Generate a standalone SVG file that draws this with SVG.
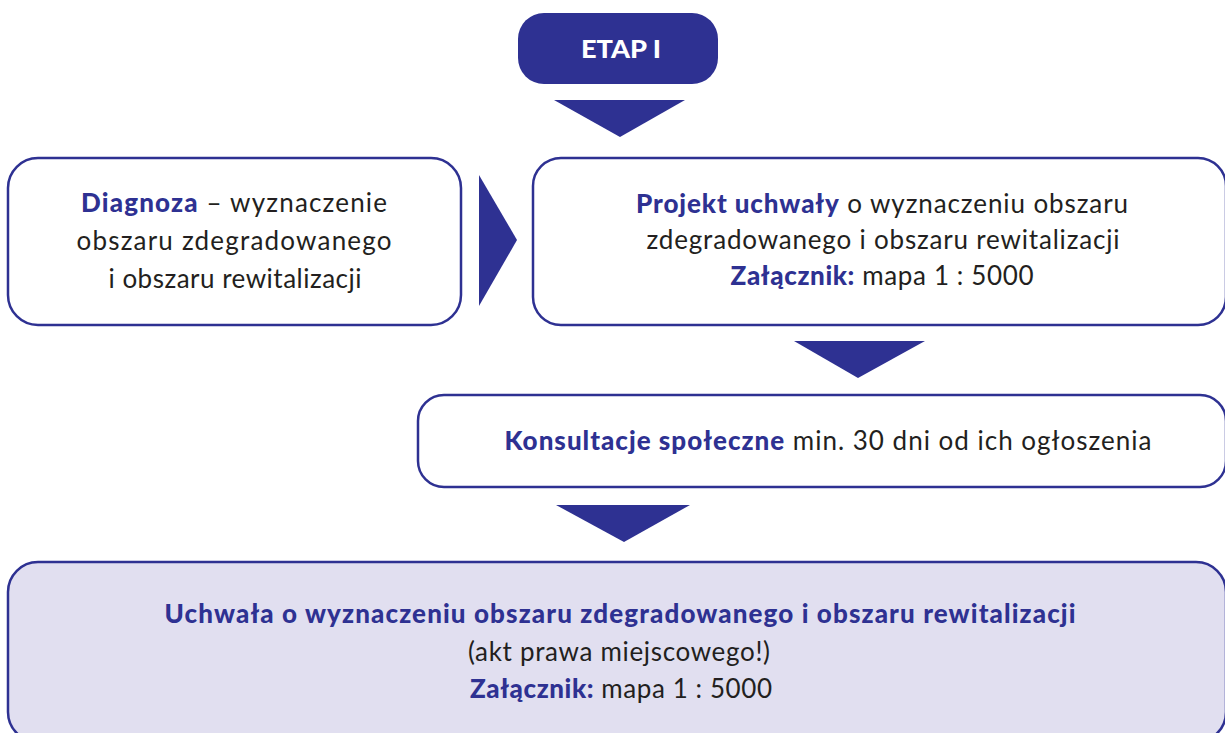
<svg xmlns="http://www.w3.org/2000/svg" width="1225" height="733" viewBox="0 0 1225 733">
<style>
.box{fill:#fff;stroke:#2e3192;stroke-width:2.5}
.fin{fill:#e1dff0;stroke:#2e3192;stroke-width:2.5}
.arr{fill:#2e3192}
text{font-family:Lato,"Noto Sans",sans-serif;font-size:26px;fill:#231f20;text-anchor:middle}
.b{font-weight:900;fill:#2e3192}
</style>
<rect width="1225" height="733" fill="#fff"/>
<g id="connectors">
<polygon class="arr" points="554,100 685,100 620,137"/>
<polygon class="arr" points="479,175 479,306 517,240"/>
<polygon class="arr" points="794,341 925,341 858,378"/>
<polygon class="arr" points="556,505 690,505 624,542"/>
</g>
<g id="etap">
<rect x="518" y="13" width="200" height="71" rx="26" fill="#2e3192"/>
<text x="621" y="58" textLength="80" lengthAdjust="spacingAndGlyphs" style="fill:#fff;font-weight:900;font-size:25px">ETAP I</text>
</g>
<g id="diagnoza">
<rect class="box" x="8" y="158" width="453" height="167" rx="30"/>
<text x="234" y="212" textLength="306"><tspan class="b">Diagnoza</tspan> – wyznaczenie</text>
<text x="234" y="250" textLength="315">obszaru zdegradowanego</text>
<text x="235" y="288" textLength="253">i obszaru rewitalizacji</text>
</g>
<g id="projekt">
<rect class="box" x="533" y="158" width="693" height="167" rx="28"/>
<text x="882" y="213" textLength="492"><tspan class="b">Projekt uchwały</tspan> o wyznaczeniu obszaru</text>
<text x="883" y="249" textLength="473">zdegradowanego i obszaru rewitalizacji</text>
<text x="882" y="285" textLength="303"><tspan class="b">Załącznik:</tspan> mapa 1 : 5000</text>
</g>
<g id="konsultacje">
<rect class="box" x="418" y="395" width="808" height="92" rx="26"/>
<text x="828" y="450" textLength="647"><tspan class="b">Konsultacje społeczne</tspan> min. 30 dni od ich ogłoszenia</text>
</g>
<g id="uchwala">
<rect class="fin" x="8" y="562" width="1218" height="180" rx="30"/>
<text x="620" y="623" class="b" textLength="911">Uchwała o wyznaczeniu obszaru zdegradowanego i obszaru rewitalizacji</text>
<text x="619" y="661" textLength="302">(akt prawa miejscowego!)</text>
<text x="621" y="698" textLength="302"><tspan class="b">Załącznik:</tspan> mapa 1 : 5000</text>
</g>
</svg>
